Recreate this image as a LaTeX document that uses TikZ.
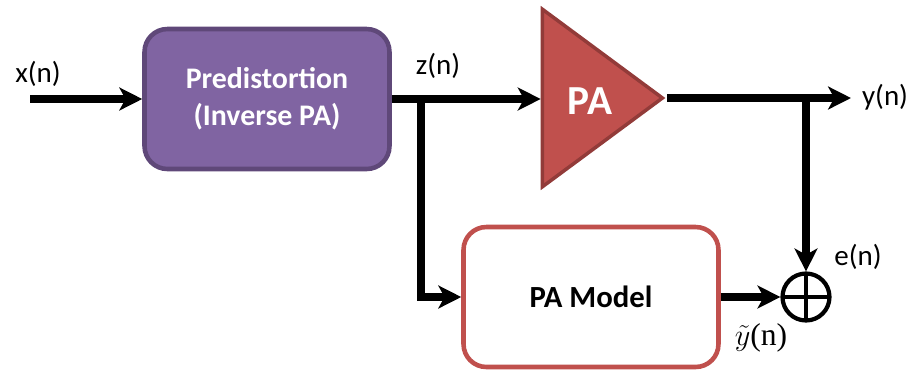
\documentclass[tikz,border=0pt]{standalone}
\usepackage{fontspec}
\setmainfont{Carlito}
\newfontfamily\serifmath{Liberation Serif}
\usetikzlibrary{arrows.meta,shapes.geometric}
\definecolor{predfill}{HTML}{8064A2}
\definecolor{preddraw}{HTML}{5F4879}
\definecolor{pafill}{HTML}{C0504D}
\definecolor{padraw}{HTML}{923B39}
\begin{document}
\begin{tikzpicture}[
	x = 0.02cm, y = -0.02cm,
	sig/.style = {line width=4pt, -{Stealth[length=13pt, width=13pt, inset=3.5pt]}},
	blockbox/.style = {rectangle, rounded corners=13pt, line width=2.6pt, minimum width=4.9cm, minimum height=2.8cm, align=center},
	signame/.style = {font=\fontsize{16.5}{19}\selectfont, inner sep=1pt},
	amp/.style = {isosceles triangle, isosceles triangle stretches, minimum width=3.55cm, minimum height=2.4cm, fill=pafill, draw=padraw, line width=2pt, inner sep=0pt}
	]
	\useasboundingbox (0,0) rectangle (914,370);
	
	% blocks
	\node[blockbox, fill=predfill, draw=preddraw, text=white, font=\bfseries\fontsize{17}{21}\selectfont] (pred) at (267,99) {Predistortion\\(Inverse PA)};
	\node[amp, anchor=apex] (pa) at (667,98) {};
	\node[text=white, font=\bfseries\fontsize{23.5}{28}\selectfont] (patext) at (590,101) {PA};
	\node[blockbox, minimum width=5.1cm, fill=white, draw=pafill, font=\bfseries\fontsize{17.5}{21}\selectfont] (model) at (591,297) {PA Model};
	\node[circle, draw, line width=2.4pt, minimum size=0.94cm, inner sep=0pt,
		path picture={\draw[line width=2.4pt] (path picture bounding box.north) -- (path picture bounding box.south)
			(path picture bounding box.west) -- (path picture bounding box.east);}] (sum) at (806,297) {};
	
	% points
	\coordinate (xin) at (30,99);
	\coordinate (zsplit) at (421,99);
	\coordinate (ysplit) at (806,98);
	\coordinate (yout) at (851,98);
	
	% connectors
	\draw[sig] (xin) -- (pred.west);
	\draw[sig] (pred.east) -- (pred.east -| pa.lower side);
	\draw[sig] (zsplit) |- (model.west);
	\draw[sig] (pa.apex) -- (yout);
	\draw[sig] (ysplit) -- (sum.north);
	\draw[sig] (model.east) -- (sum.west);
	
	% labels
	\node[signame] (xlbl) at (38,74) {x(n)};
	\node[signame] (zlbl) at (438,66) {z(n)};
	\node[signame, anchor=west] (ylbl) at (860,97) {y(n)};
	\node[signame] (elbl) at (858,257) {e(n)};
	\node[inner sep=1pt, font=\fontsize{18}{20}\selectfont] (ytlbl) at (761,338) {$\tilde{y}${\serifmath(n)}};
\end{tikzpicture}
\end{document}
